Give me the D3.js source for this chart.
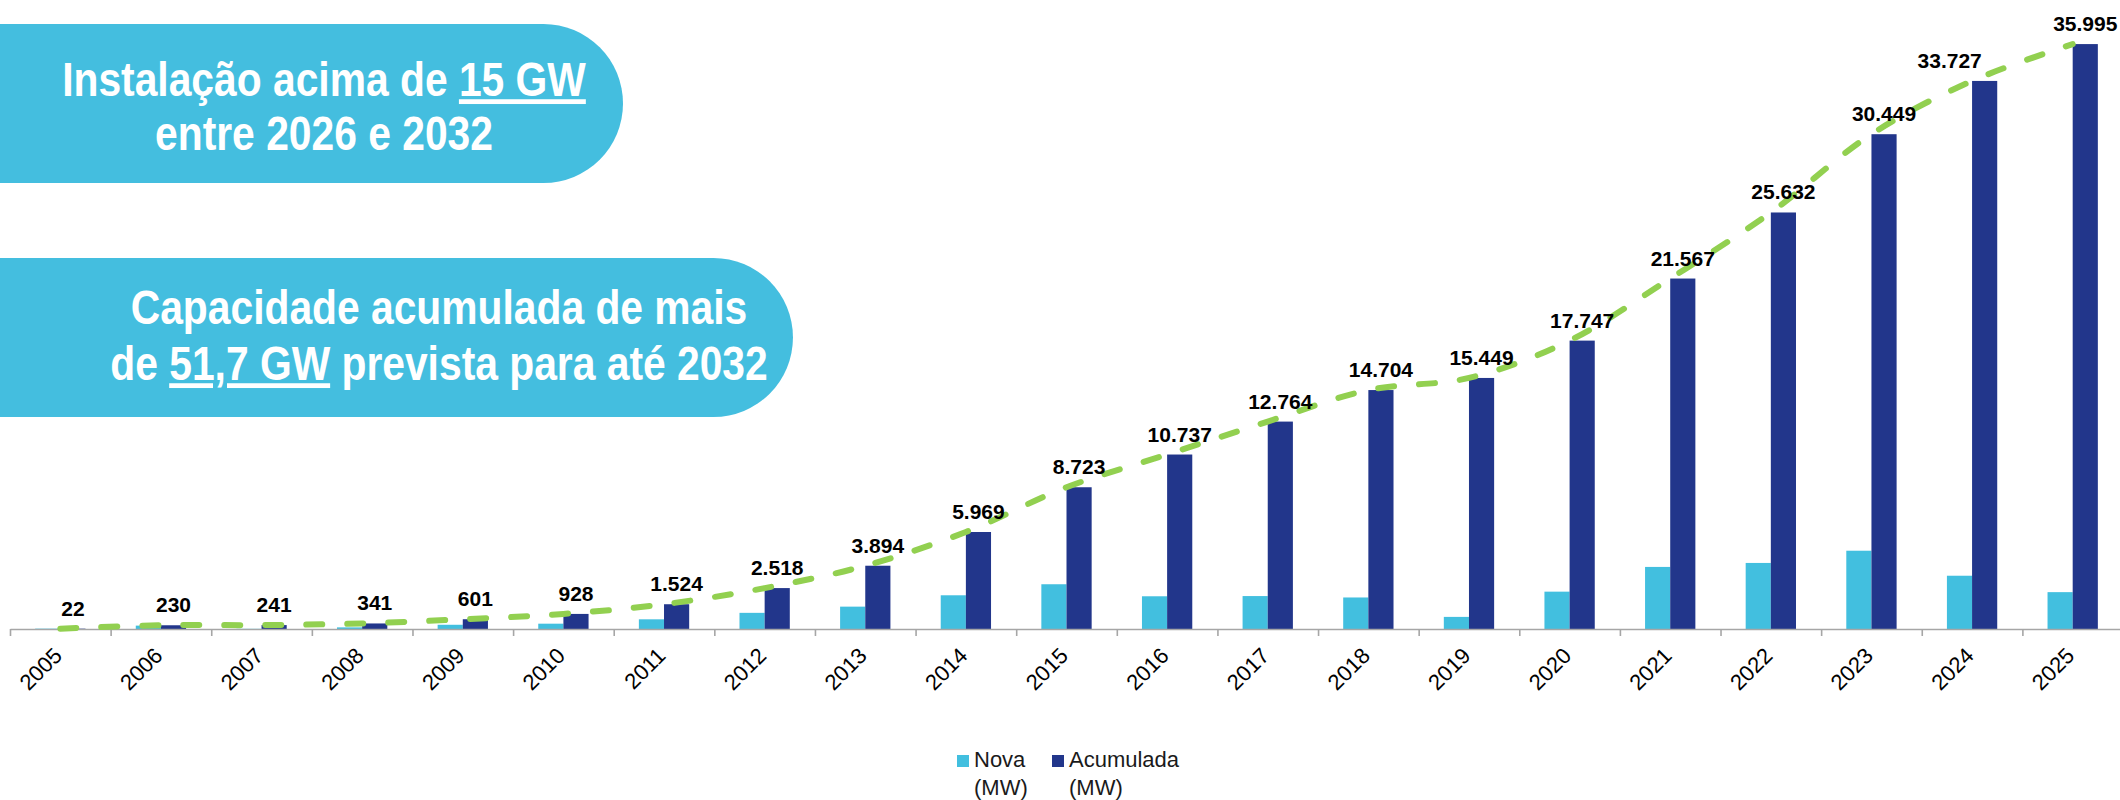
<!DOCTYPE html>
<html>
<head>
<meta charset="utf-8">
<script src="https://cdn.jsdelivr.net/npm/d3@7"></script>
<style>
  html, body { margin: 0; padding: 0; background: #ffffff; }
  svg { display: block; }
</style>
</head>
<body>
<svg id="chart" width="2120" height="800"></svg>
<script>
// ---- data ----
const years = ["2005","2006","2007","2008","2009","2010","2011","2012","2013","2014","2015",
               "2016","2017","2018","2019","2020","2021","2022","2023","2024","2025"];
const nova = [22, 208, 11, 100, 260, 327, 596, 994, 1376, 2075, 2754,
              2014, 2027, 1940, 745, 2298, 3820, 4065, 4817, 3278, 2268];
const acumulada = [22, 230, 241, 341, 601, 928, 1524, 2518, 3894, 5969, 8723,
                   10737, 12764, 14704, 15449, 17747, 21567, 25632, 30449, 33727, 35995];
const seriesNames = ["Nova", "Acumulada"];
const seriesUnits = ["(MW)", "(MW)"];
const callout1 = [["Instalação acima de ", "15 GW", ""], ["entre 2026 e 2032"]];
const callout2 = [["Capacidade acumulada de mais"], ["de ", "51,7 GW", " prevista para até 2032"]];

// ---- styles ----
const C_LIGHT = "#42BFDF";
const C_DARK = "#22368B";
const C_BOX = "#44BEDF";
const C_LINE = "#92D050";
const FONT = "'Liberation Sans', Arial, sans-serif";
// label nudges (style only): the 2024 label sits left of its bar in the original
const labelShift = { "2024": -35 };

const svg = d3.select("#chart");
const baseY = 629;

const x = d3.scaleBand().domain(years).range([10, 2123]).paddingInner(0).paddingOuter(0);
const y = d3.scaleLinear().domain([0, 36000]).range([baseY, 44]);
const bw = x.bandwidth() * 0.25;
const cx = d => x(d) + x.bandwidth() / 2;

const data = years.map((yr, i) => ({ yr, nova: nova[i], acc: acumulada[i] }));

// ---- callout boxes ----
function pill(top, bottom, right) {
  const r = (bottom - top) / 2;
  return `M-10,${top}H${right - r}A${r},${r} 0 0 1 ${right - r},${bottom}H-10Z`;
}
svg.append("path").attr("d", pill(24, 183, 623)).attr("fill", C_BOX);
svg.append("path").attr("d", pill(258, 417, 793)).attr("fill", C_BOX);

function calloutText(lines, xMid, baselines) {
  lines.forEach((parts, li) => {
    const t = svg.append("text")
      .attr("transform", `translate(${xMid},${baselines[li]}) scale(0.85,1)`)
      .attr("text-anchor", "middle")
      .attr("fill", "#ffffff")
      .attr("font-family", FONT)
      .attr("font-weight", "bold")
      .attr("font-size", 48);
    parts.forEach((p, pi) => {
      const ts = t.append("tspan").text(p);
      if (parts.length > 1 && pi === 1) ts.attr("text-decoration", "underline");
    });
  });
}
calloutText(callout1, 324, [96, 150]);
calloutText(callout2, 439, [324, 380]);

// ---- bars ----
const g = svg.append("g");
g.selectAll("rect.nova").data(data).join("rect")
  .attr("class", "nova")
  .attr("x", d => cx(d.yr) - bw)
  .attr("y", d => y(d.nova))
  .attr("width", bw)
  .attr("height", d => baseY - y(d.nova))
  .attr("fill", C_LIGHT);
g.selectAll("rect.acc").data(data).join("rect")
  .attr("class", "acc")
  .attr("x", d => cx(d.yr))
  .attr("y", d => y(d.acc))
  .attr("width", bw)
  .attr("height", d => baseY - y(d.acc))
  .attr("fill", C_DARK);

// ---- axis ----
const xb = d3.scaleLinear().domain([0, years.length]).range(x.range());
const axis = svg.append("g").attr("transform", `translate(0,${baseY})`)
  .call(d3.axisBottom(xb).tickValues(d3.range(0, years.length + 1))
        .tickFormat("").tickSize(7).tickSizeOuter(0));
axis.selectAll("path, line").attr("stroke", "#A6A6A6").attr("stroke-width", 1.6);

svg.append("g").selectAll("text").data(years).join("text")
  .attr("transform", d => `translate(${cx(d) + 3},${baseY + 28}) rotate(-45)`)
  .attr("text-anchor", "end")
  .attr("font-family", FONT)
  .attr("font-size", 22)
  .attr("fill", "#000")
  .text(d => d);

// ---- dashed smoothed line ----
const line = d3.line()
  .x(d => cx(d.yr))
  .y(d => y(d.acc))
  .curve(d3.curveCatmullRom.alpha(0.5));
svg.append("path").datum(data)
  .attr("d", line)
  .attr("fill", "none")
  .attr("stroke", C_LINE)
  .attr("stroke-width", 6)
  .attr("stroke-linecap", "round")
  .attr("stroke-dasharray", "16 25");

// ---- data labels ----
const fmt = d3.formatLocale({ decimal: ",", thousands: ".", grouping: [3], currency: ["", ""] }).format(",d");
svg.append("g").selectAll("text").data(data).join("text")
  .attr("x", d => cx(d.yr) + bw / 2 + (labelShift[d.yr] || 0))
  .attr("y", d => y(d.acc) - 13)
  .attr("text-anchor", "middle")
  .attr("font-family", FONT)
  .attr("font-weight", "bold")
  .attr("font-size", 21)
  .attr("fill", "#000")
  .text(d => fmt(d.acc));

// ---- legend ----
const legend = svg.append("g");
const legX = [957, 1052];
const legC = [C_LIGHT, C_DARK];
seriesNames.forEach((name, i) => {
  legend.append("rect").attr("x", legX[i]).attr("y", 755).attr("width", 12).attr("height", 12).attr("fill", legC[i]);
  legend.append("text").attr("x", legX[i] + 17).attr("y", 767)
    .attr("font-family", FONT).attr("font-size", 22).attr("fill", "#1a1a1a").text(name);
  legend.append("text").attr("x", legX[i] + 17).attr("y", 795)
    .attr("font-family", FONT).attr("font-size", 22).attr("fill", "#1a1a1a").text(seriesUnits[i]);
});
</script>
</body>
</html>
